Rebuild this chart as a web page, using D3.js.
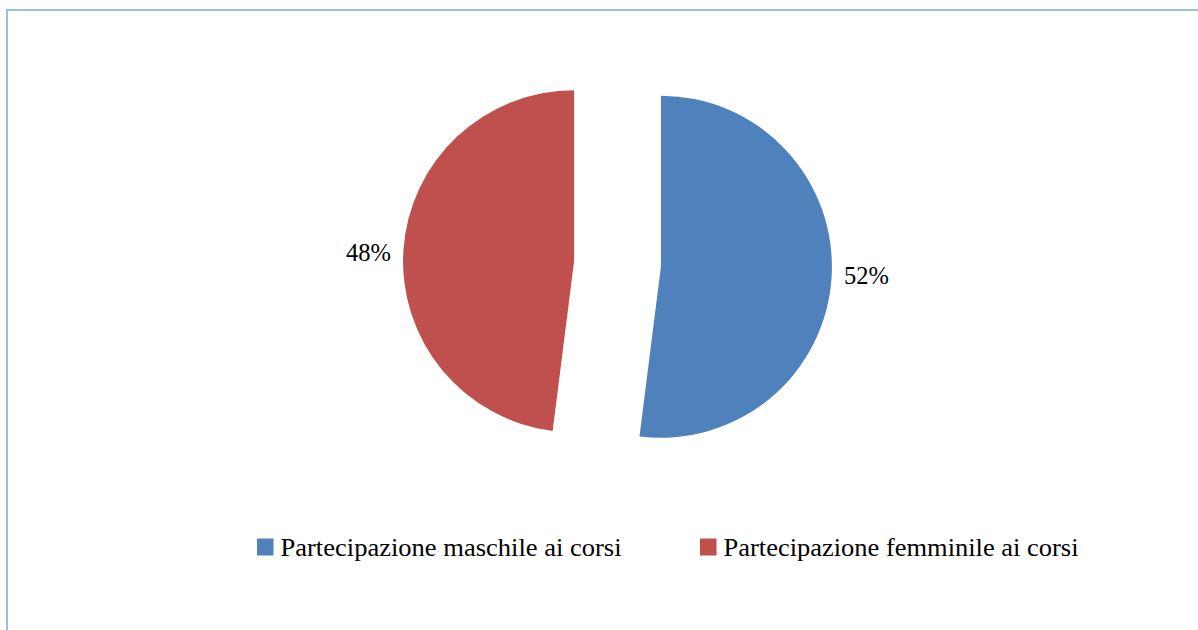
<!DOCTYPE html>
<html><head><meta charset="utf-8">
<script src="https://cdn.jsdelivr.net/npm/d3@7"></script>
<style>
body{margin:0;background:#fff;} svg{display:block;}
text{font-family:"Liberation Serif","Times New Roman",Tinos,"DejaVu Serif",serif;}
</style>
</head><body>
<svg id="c" width="1198" height="630"></svg>
<script>
const categories = ["Partecipazione maschile ai corsi", "Partecipazione femminile ai corsi"];
const values = [52, 48];
const labels = ["52%", "48%"];
const colors = ["#4f81bd", "#c0504d"];

const svg = d3.select("#c");
const fs = 25;

svg.append("rect").attr("x", 7).attr("y", 10).attr("width", 1300).attr("height", 700)
  .attr("fill", "none").attr("stroke", "#9bbfd6").attr("stroke-width", 2);

const cx = 617.5, cy = 264, R = 171, explode = 43.5;
const pie = d3.pie().sort(null).value(d => d);
const arc = d3.arc().innerRadius(0).outerRadius(R);
const arcs = pie(values);

const g = svg.append("g").attr("transform", `translate(${cx},${cy})`);
arcs.forEach((a, i) => {
  const mid = (a.startAngle + a.endAngle) / 2;
  const dx = Math.sin(mid) * explode, dy = -Math.cos(mid) * explode;
  g.append("path").attr("d", arc(a)).attr("fill", colors[i])
    .attr("transform", `translate(${dx},${dy})`);
});

const labelR = R + explode + 35;
arcs.forEach((a, i) => {
  const mid = (a.startAngle + a.endAngle) / 2;
  const x = Math.sin(mid) * labelR, y = -Math.cos(mid) * labelR * 0.76;
  g.append("text").attr("x", x).attr("y", y + 8.5)
    .attr("text-anchor", "middle")
    .attr("font-size", fs).attr("fill", "#000")
    .attr("textLength", 45).attr("lengthAdjust", "spacingAndGlyphs")
    .text(labels[i]);
});

const legX = [257, 700];
const legW = [341, 355];
categories.forEach((c, i) => {
  svg.append("rect").attr("x", legX[i]).attr("y", 538.5).attr("width", 16.5).attr("height", 17)
    .attr("fill", colors[i]);
  svg.append("text").attr("x", legX[i] + 23.5).attr("y", 556)
    .attr("font-size", fs).attr("fill", "#000")
    .attr("textLength", legW[i]).attr("lengthAdjust", "spacingAndGlyphs")
    .text(c);
});
</script>
</body></html>
